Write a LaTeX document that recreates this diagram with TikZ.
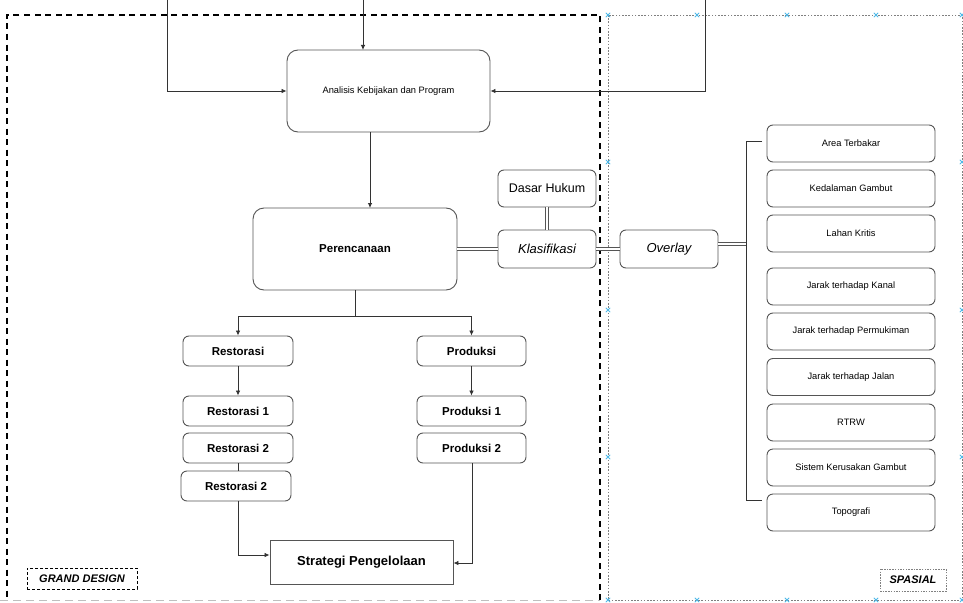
\documentclass[tikz,border=0pt]{standalone}
\usepackage{fontspec}
\setmainfont{Liberation Sans}
\usetikzlibrary{arrows.meta}
\definecolor{lnc}{HTML}{333333}
\definecolor{bdc}{HTML}{555555}
\definecolor{mkc}{HTML}{4DB8E8}
\tikzset{
  rbox/.style={draw=bdc, line width=0.9pt, rounded corners=6pt, fill=white, align=center, inner sep=0pt, text=black},
  bigbox/.style={rbox, rounded corners=11pt},
  conn/.style={draw=lnc, line width=0.8pt},
  arr/.style={conn, -{Latex[length=5pt,width=4.5pt]}},
  dbl/.style={draw=bdc, line width=0.7pt, double=white, double distance=2pt},
  mk/.style={draw=mkc, line width=0.8pt},
  smalltxt/.style={font=\fontsize{9.3}{11}\selectfont},
  boldtxt/.style={font=\fontsize{11.5}{13}\selectfont\bfseries},
}
\newcommand{\xmk}[2]{\draw[mk] (#1-2.2,#2-2.2) -- (#1+2.2,#2+2.2) (#1-2.2,#2+2.2) -- (#1+2.2,#2-2.2);}
\begin{document}
\begin{tikzpicture}[x=1pt,y=-1pt]
\useasboundingbox (0,0) rectangle (963,602);
\fill[white] (0,0) rectangle (963,602);
% spasial dotted box
\draw[gray, line width=0.7pt, dash pattern=on 1.6pt off 1.6pt] (608,15) rectangle (962,600);
\foreach \xx in {608,697,787,876,962} {\xmk{\xx}{15}\xmk{\xx}{600}}
\foreach \yy in {162,310,457} {\xmk{608}{\yy}\xmk{962}{\yy}}
% grand design dashed box
\draw[black, line width=2.2pt, dash pattern=on 6pt off 4.5pt] (600,600) -- (600,15) -- (7,15) -- (7,600);
\draw[black!25, line width=0.8pt, dash pattern=on 8pt off 5pt] (0,600) -- (600,600);
% nodes
\node[bigbox, minimum width=203pt, minimum height=82pt, smalltxt] (ana) at (388.5,91) {Analisis Kebijakan dan Program};
\node[bigbox, minimum width=204pt, minimum height=82pt, boldtxt] (per) at (355,249) {Perencanaan};
\node[rbox, minimum width=98pt, minimum height=37pt, font=\fontsize{12.5}{14}\selectfont] (dh) at (547,188.5) {Dasar Hukum};
\node[rbox, minimum width=98pt, minimum height=38pt, font=\fontsize{13}{15}\selectfont\itshape] (kl) at (547,249) {Klasifikasi};
\node[rbox, minimum width=98pt, minimum height=38pt, font=\fontsize{13}{15}\selectfont\itshape] (ov) at (669,249) {Overlay};
\node[rbox, minimum width=110pt, minimum height=30pt, boldtxt] (res) at (238,351) {Restorasi};
\node[rbox, minimum width=110pt, minimum height=30pt, boldtxt] (res1) at (238,411) {Restorasi 1};
\node[rbox, minimum width=110pt, minimum height=30pt, boldtxt] (res2) at (238,448) {Restorasi 2};
\node[rbox, minimum width=110pt, minimum height=30pt, boldtxt] (res3) at (236,486) {Restorasi 2};
\node[rbox, minimum width=109pt, minimum height=30pt, boldtxt] (pro) at (471.5,351) {Produksi};
\node[rbox, minimum width=109pt, minimum height=30pt, boldtxt] (pro1) at (471.5,411) {Produksi 1};
\node[rbox, minimum width=109pt, minimum height=30pt, boldtxt] (pro2) at (471.5,448) {Produksi 2};
\node[draw=bdc, line width=0.9pt, fill=white, minimum width=183pt, minimum height=44pt, inner sep=0pt, font=\fontsize{13}{15}\selectfont\bfseries] (str) at (361.5,562) {Strategi Pengelolaan};
% right list
\foreach \nm/\cy/\tx in {a1/143.5/Area Terbakar, a2/188.5/Kedalaman Gambut, a3/233.5/Lahan Kritis, a4/286.5/Jarak terhadap Kanal, a5/331.5/Jarak terhadap Permukiman, a6/377/Jarak terhadap Jalan, a7/422.5/RTRW, a8/467.5/Sistem Kerusakan Gambut, a9/512.5/Topografi}
  {\node[rbox, minimum width=168pt, minimum height=37pt, smalltxt] (\nm) at (851,\cy) {\tx};}
% labels
\node[draw=black, line width=0.8pt, dash pattern=on 3pt off 2pt, minimum width=110pt, minimum height=21pt, inner sep=0pt, font=\fontsize{11}{12}\selectfont\bfseries\itshape] (gd) at (82,578.5) {GRAND DESIGN};
\node[draw=gray, line width=0.8pt, dash pattern=on 1.5pt off 1.2pt, minimum width=66pt, minimum height=22pt, inner sep=0pt, font=\fontsize{11}{12}\selectfont\bfseries\itshape] (sp) at (913,580) {SPASIAL};
% top connectors
\coordinate (t1) at (167,0);
\coordinate (t2) at (363,0);
\coordinate (t3) at (705,0);
\draw[arr] (t1) |- (ana.west);
\draw[arr] (t2) -- (363,50);
\draw[arr] (t3) |- (ana.east);
\draw[arr] (370,132) -- (370,208);
% double connectors
\draw[dbl] (per.east) -- (kl.west);
\draw[dbl] (dh.south) -- (kl.north);
\draw[dbl] (kl.east) -- (ov.west);
\coordinate (brk) at (746,244);
\draw[dbl] (718,244) -- (brk);
\draw[conn] (762,141) -- (746,141) -- (746,500) -- (762,500);
% tree
\coordinate (split) at (355,316);
\draw[conn] (per.south) -- (split);
\draw[arr] (split) -| (res.north);
\draw[arr] (split) -| (pro.north);
\draw[arr] (res.south) -- (res1.north);
\draw[arr] (pro.south) -- (pro1.north);
\draw[conn] (res2.south) -- (238,471);
\draw[arr] (238,501) |- (str.west |- 0,555);
\draw[arr] (472,463) |- (str.east |- 0,563);
\end{tikzpicture}
\end{document}
